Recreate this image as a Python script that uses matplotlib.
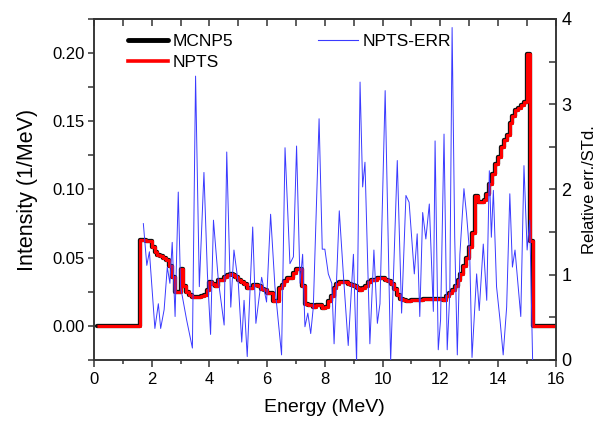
import numpy as np
import matplotlib
matplotlib.use("Agg")
import matplotlib.pyplot as plt
from matplotlib.ticker import MultipleLocator, FormatStrFormatter
from matplotlib.lines import Line2D

plt.rcParams['font.family'] = ['Liberation Sans', 'DejaVu Sans']

# ---- data -------------------------------------------------------------
bin_width = 0.1          # MeV
first_edge = 1.6         # MeV, lower edge of first non-zero bin
x_start, x_end = 0.1, 16.0

# Intensity (1/MeV) per 0.1 MeV bin, 1.6 ... 15.1 MeV (lower edges)
intensity = [
    0.063, 0.063, 0.062, 0.062,                                              # 1.6-1.9
    0.058, 0.054, 0.052, 0.051, 0.050, 0.048, 0.044, 0.036, 0.025, 0.025,    # 2.x
    0.042, 0.029, 0.025, 0.023, 0.021, 0.021, 0.021, 0.022, 0.023, 0.026,    # 3.x
    0.032, 0.031, 0.029, 0.034, 0.034, 0.036, 0.037, 0.038, 0.037, 0.036,    # 4.x
    0.034, 0.032, 0.031, 0.028, 0.028, 0.030, 0.030, 0.029, 0.027, 0.026,    # 5.x
    0.024, 0.024, 0.018, 0.018, 0.028, 0.030, 0.033, 0.035, 0.035, 0.039,    # 6.x
    0.042, 0.042, 0.029, 0.016, 0.015, 0.015, 0.014, 0.015, 0.015, 0.013,    # 7.x
    0.014, 0.018, 0.022, 0.028, 0.031, 0.032, 0.032, 0.032, 0.031, 0.030,    # 8.x
    0.029, 0.028, 0.026, 0.028, 0.029, 0.032, 0.034, 0.034, 0.035, 0.035,    # 9.x
    0.035, 0.034, 0.033, 0.031, 0.027, 0.023, 0.020, 0.019, 0.018, 0.018,    # 10.x
    0.019, 0.019, 0.019, 0.019, 0.020, 0.020, 0.020, 0.020, 0.020, 0.020,    # 11.x
    0.020, 0.019, 0.022, 0.024, 0.026, 0.029, 0.034, 0.038, 0.044, 0.050,    # 12.x
    0.058, 0.068, 0.095, 0.091, 0.091, 0.092, 0.097, 0.104, 0.111, 0.119,    # 13.x
    0.124, 0.131, 0.136, 0.140, 0.149, 0.154, 0.158, 0.160, 0.162, 0.164,    # 14.x
    0.199, 0.062,                                                            # 15.0-15.1
]

# Relative error / std (right axis)
err_energy = [1.71, 1.83, 1.92, 2.11, 2.23, 2.31, 2.43, 2.54, 2.63, 2.71, 2.81, 2.92,
              3.00, 3.21, 3.41, 3.52, 3.65, 3.81, 3.93, 4.04, 4.14, 4.31, 4.51, 4.60,
              4.74, 4.85, 5.00, 5.12, 5.20, 5.31, 5.50, 5.61, 5.81, 5.98, 6.12, 6.27,
              6.50, 6.62, 6.79, 6.91, 7.02, 7.14, 7.23, 7.31, 7.41, 7.51, 7.60, 7.80,
              7.91, 8.00, 8.12, 8.24, 8.32, 8.50, 8.64, 8.81, 8.99, 9.10, 9.22, 9.31,
              9.39, 9.56, 9.70, 9.82, 9.91, 10.09, 10.28, 10.51, 10.66, 10.81, 10.92,
              11.10, 11.20, 11.29, 11.39, 11.50, 11.62, 11.76, 11.82, 11.93, 12.01,
              12.13, 12.24, 12.33, 12.41, 12.50, 12.59, 12.68, 12.82, 12.91, 13.02,
              13.10, 13.26, 13.35, 13.49, 13.61, 13.70, 13.77, 13.84, 13.95, 14.07,
              14.18, 14.30, 14.41, 14.50, 14.59, 14.70, 14.79, 14.90, 15.01, 15.10,
              15.20]
err_value = [1.60, 1.11, 1.27, 0.37, 0.66, 0.37, 0.59, 1.09, 0.90, 1.38, 0.51, 1.97,
             0.86, 0.47, 0.14, 3.33, 0.86, 2.20, 1.01, 0.30, 1.64, 0.93, 0.41, 2.44,
             0.62, 1.29, 0.90, 0.21, 0.70, 0.04, 1.56, 0.43, 0.97, 0.68, 1.71, 0.86,
             0.06, 2.49, 1.13, 1.21, 2.51, 0.90, 1.24, 0.39, 0.55, 0.31, 0.62, 2.83,
             1.30, 1.30, 1.01, 0.90, 0.19, 1.75, 1.01, 0.17, 1.24, -0.03, 3.26, 2.03,
             2.32, 0.19, 1.29, 0.43, 0.66, 3.16, -0.02, 2.34, 0.55, 1.93, 1.85,
             1.01, 1.48, 0.51, 1.73, 1.42, 1.83, 0.57, 2.57, 0.12, 0.47,
             2.65, 0.12, 0.78, 3.90, 1.44, 0.06, 1.24, 2.01, 1.71, 1.24,
             0.03, 1.01, 0.58, 1.36, 0.70, 2.22, 1.44, 1.99, 0.86, 0.47,
             0.06, 0.62, 1.95, 1.09, 1.29, 0.86, 0.51, 2.28, 1.29, 1.64,
             0.00]

# ---- build step arrays -----------------------------------------------
edges = first_edge + bin_width * np.arange(len(intensity))
last_edge = first_edge + bin_width * len(intensity)
step_x = np.concatenate([[x_start], edges, [last_edge, x_end]])
step_y = np.concatenate([[0.0], intensity, [0.0, 0.0]])

# ---- figure -------------------------------------------------------------
fig = plt.figure(figsize=(5.97, 4.21), dpi=100)
ax = fig.add_axes([94 / 597, 1 - 360 / 421, (555.7 - 94) / 597, (360 - 19) / 421])

ax.step(step_x, step_y, where='post', color='#111111', lw=3.1,
        solid_capstyle='round', solid_joinstyle='round', zorder=2)
ax.step(step_x, step_y, where='post', color='#ff0000', lw=2.2,
        solid_capstyle='butt', solid_joinstyle='round', zorder=3)

ax.set_xlim(0, 16)
ax.set_ylim(-0.025, 0.225)
ax.xaxis.set_major_locator(MultipleLocator(2))
ax.xaxis.set_minor_locator(MultipleLocator(1))
ax.yaxis.set_major_locator(MultipleLocator(0.05))
ax.yaxis.set_minor_locator(MultipleLocator(0.025))
ax.yaxis.set_major_formatter(FormatStrFormatter('%.2f'))
ax.tick_params(axis='both', which='both', direction='out', labelsize=12,
               width=1.1, color='#333333', right=False, top=False)
ax.tick_params(axis='x', which='major', length=5, pad=4)
ax.tick_params(axis='x', which='minor', length=3)
ax.tick_params(axis='y', which='major', length=4, pad=3)
ax.tick_params(axis='y', which='minor', length=4)
for s in ax.spines.values():
    s.set_linewidth(1.1)
    s.set_color('#333333')

ax.set_xlabel('Energy (MeV)', fontsize=14, labelpad=8)
ax.set_ylabel('Intensity (1/MeV)', fontsize=15.5, labelpad=10)

sec = ax.secondary_xaxis('top')
sec.xaxis.set_major_locator(MultipleLocator(1))
sec.tick_params(direction='in', length=5, width=1.1, color='#333333', labeltop=False)
sec.spines['top'].set_linewidth(1.1)
sec.spines['top'].set_color('#333333')

ax2 = ax.twinx()
ax2.plot(err_energy, err_value, color='#3a3aff', lw=0.7, zorder=4)
ax2.set_ylim(0, 4)
ax2.yaxis.set_major_locator(MultipleLocator(1))
ax2.yaxis.set_minor_locator(MultipleLocator(0.5))
ax2.tick_params(axis='y', which='both', direction='in', length=5, width=1.1,
                color='#333333', labelsize=13, pad=4)
ax2.set_ylabel('Relative err./STd.', fontsize=12, labelpad=8)
for s in ax2.spines.values():
    s.set_linewidth(1.1)
    s.set_color('#333333')

h1 = [Line2D([], [], color='black', lw=3.5, solid_capstyle='round'),
      Line2D([], [], color='#ff0000', lw=2.6)]
leg1 = ax2.legend(h1, ['MCNP5', 'NPTS'], loc='upper left',
                  bbox_to_anchor=(0.073, 0.955), frameon=False, fontsize=12.5,
                  handlelength=2.3, handletextpad=0.3, labelspacing=0.33,
                  borderpad=0, borderaxespad=0)
ax2.add_artist(leg1)
h2 = [Line2D([], [], color='#3a3aff', lw=0.8)]
ax2.legend(h2, ['NPTS-ERR'], loc='upper left', bbox_to_anchor=(0.485, 0.957),
           frameon=False, fontsize=12.5, handlelength=2.3, handletextpad=0.3,
           borderpad=0, borderaxespad=0)

fig.savefig('out.png', dpi=100)
